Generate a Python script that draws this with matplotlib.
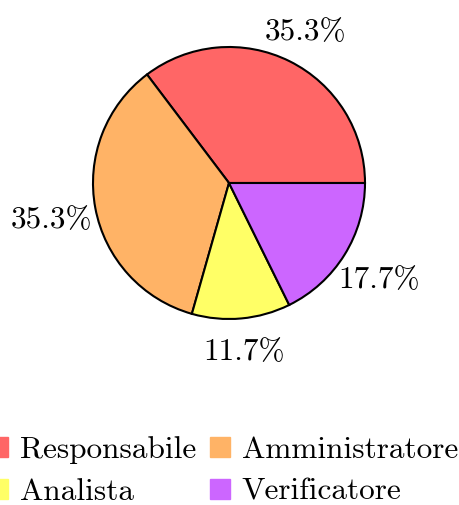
import numpy as np
import matplotlib.pyplot as plt
from matplotlib.lines import Line2D

plt.rcParams["font.family"] = "serif"
plt.rcParams["font.serif"] = ["cmr10", "DejaVu Serif"]
plt.rcParams["mathtext.fontset"] = "cm"
plt.rcParams["axes.formatter.use_mathtext"] = True

roles = ["Responsabile", "Amministratore", "Analista", "Verificatore"]
shares = [35.3, 35.3, 11.7, 17.7]
colors = ["#FF6666", "#FFB366", "#FFFF66", "#CC66FF"]
label_dist = [1.27, 1.33, 1.22, 1.30]

fig = plt.figure(figsize=(4.59, 5.05), dpi=100)
ax = fig.add_axes([(229 - 136) / 459, 1 - (183 + 136) / 505, 272 / 459, 272 / 505])

wedges, texts = ax.pie(
    shares,
    colors=colors,
    startangle=0,
    counterclock=True,
    wedgeprops={"edgecolor": "black", "linewidth": 1.5},
)
for w, s, d in zip(wedges, shares, label_dist):
    ang = np.deg2rad((w.theta1 + w.theta2) / 2)
    ax.text(d * np.cos(ang), d * np.sin(ang) - 0.03, f"{s:.1f}%", fontsize=22.5,
            ha="center", va="center", clip_on=False)
ax.set_xlim(-1, 1)
ax.set_ylim(-1, 1)
ax.set_aspect("equal")
ax.axis("off")

# legend fills column-wise, so reorder to get rows Resp/Amm, Anal/Verif
order = [0, 2, 1, 3]
handles = [Line2D([], [], marker="s", linestyle="none", markersize=15,
                  markerfacecolor=colors[i], markeredgecolor=colors[i]) for i in order]
fig.legend(handles, [roles[i] for i in order], loc="center", bbox_to_anchor=(0.48, 0.068),
           ncol=2, frameon=False, fontsize=22.5, handletextpad=0.2,
           columnspacing=0.25, labelspacing=0.45, handlelength=1.0)

fig.savefig("out.png", dpi=100)
